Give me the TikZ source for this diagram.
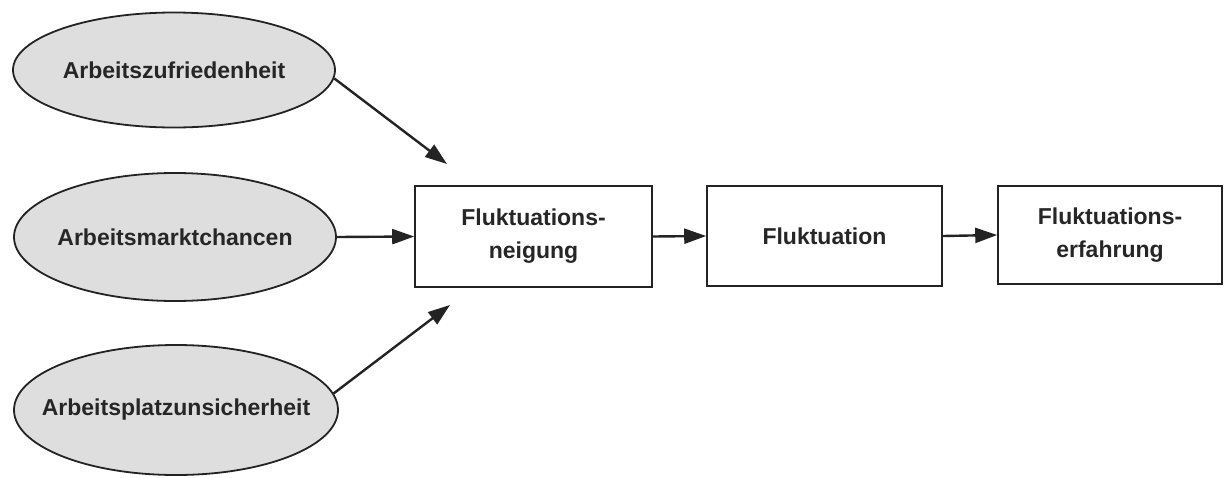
\documentclass[tikz,border=0pt]{standalone}
\usepackage{fontspec}
\setmainfont{Liberation Sans}
\usetikzlibrary{shapes.geometric,arrows.meta}
\definecolor{ellfill}{RGB}{222,222,222}
\definecolor{linec}{RGB}{35,35,35}
\newcommand{\ztext}[1]{\makebox[0pt][c]{#1}}
\begin{document}
\begin{tikzpicture}[x=1pt,y=-1pt,
  ell/.style={ellipse,draw=linec,line width=1.8pt,fill=ellfill,minimum width=322pt,inner sep=0pt,font=\fontsize{23}{26}\selectfont\bfseries,text=black!85},
  boxn/.style={rectangle,draw=linec,line width=1.6pt,fill=white,align=center,font=\fontsize{23}{33}\selectfont\bfseries,text=black!85,inner sep=0pt},
  arr/.style={draw=linec,line width=2.4pt,-{Triangle[length=22pt,width=15pt]}}]
\useasboundingbox (0,0) rectangle (1225,477);
\node[ell,minimum height=115pt] (e1) at (174,70) {\ztext{Arbeitszufriedenheit}};
\node[ell,minimum height=128pt] (e2) at (175,237) {\ztext{Arbeitsmarktchancen}};
\node[ell,minimum height=130pt,minimum width=324pt] (e3) at (176,410) {\ztext{Arbeitsplatzunsicherheit}};
\node[boxn,minimum width=237pt,minimum height=101pt] (b1) at (533.5,236.5) {Fluktuations-\\neigung};
\node[boxn,minimum width=235pt,minimum height=100pt] (b2) at (824.5,236) {Fluktuation};
\node[boxn,minimum width=224pt,minimum height=98pt] (b3) at (1110,235) {Fluktuations-\\erfahrung};
\coordinate (t1) at (447,164);
\coordinate (t3) at (450,305);
\draw[arr] (e1.-3) -- (t1);
\draw[arr] (e2.east) -- (b1.west);
\draw[arr] (e3.6) -- (t3);
\draw[arr] (b1.east) -- (b2.west);
\draw[arr] (b2.east) -- (b3.west);
\end{tikzpicture}
\end{document}
